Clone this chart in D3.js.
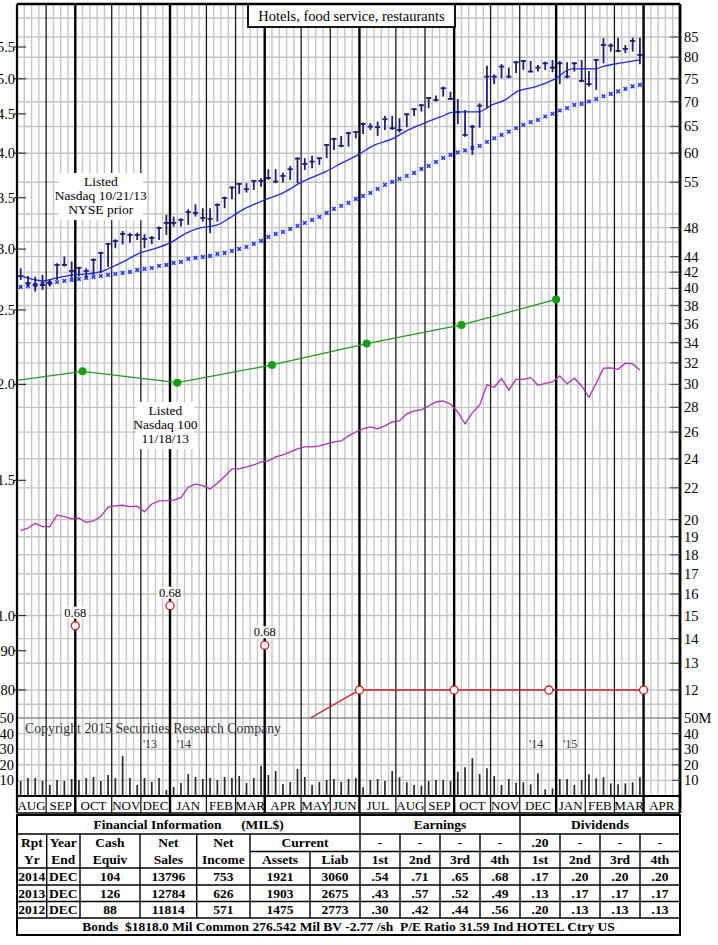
<!DOCTYPE html>
<html><head><meta charset="utf-8">
<script src="https://cdn.jsdelivr.net/npm/d3@7"></script>
<style>
body{margin:0;background:#fff}
svg{display:block}
text{font-family:"Liberation Serif","Times New Roman",serif}
</style>
</head><body>
<svg id="c" width="718" height="945"></svg>
<script>
// ---------------- DATA ----------------
const monthNames = ["AUG","SEP","OCT","NOV","DEC","JAN","FEB","MAR","APR","MAY","JUN","JUL","AUG","SEP","OCT","NOV","DEC","JAN","FEB","MAR","APR"];
const monthWeeks = [4,4,5,4,4,5,4,4,5,4,4,5,4,4,5,4,5,4,4,4,5];

const high = [42.50,41.52,41.44,41.65,41.15,43.13,44.00,43.35,42.70,42.50,
  43.79,44.66,45.81,46.36,47.53,47.28,47.28,47.06,46.81,48.15,
  49.86,49.61,49.37,50.72,51.48,50.87,50.87,51.64,52.67,54.27,
  54.88,54.83,55.38,55.66,57.18,57.18,56.60,57.75,59.28,59.10,
  59.52,59.28,61.68,62.86,63.18,64.00,64.14,65.76,65.64,65.96,
  67.08,67.08,66.63,67.63,68.66,69.55,71.01,71.34,73.25,72.16,
  70.60,68.31,65.32,69.69,78.00,76.00,78.35,77.55,79.10,79.35,
  79.10,78.16,78.95,79.35,79.10,78.80,78.80,79.35,76.78,79.59,
  84.69,83.42,84.84,83.00,84.84,84.84];
const low = [41.03,40.21,39.62,39.82,40.21,41.03,42.70,41.24,41.44,41.24,
  41.65,41.86,42.70,45.12,45.63,45.88,46.26,45.12,45.67,46.26,
  46.96,48.15,48.15,48.39,49.61,48.87,47.20,48.87,50.87,52.31,
  53.10,53.31,53.74,54.27,55.38,54.83,54.93,55.38,54.83,57.06,
  57.35,57.92,59.10,60.59,61.08,61.19,62.75,63.56,64.33,63.18,
  64.33,64.33,63.81,64.85,67.08,67.96,68.66,70.03,71.09,70.39,
  65.44,63.05,59.68,64.78,68.66,73.80,75.12,75.12,76.25,77.01,
  76.48,76.62,77.01,76.48,73.80,75.12,76.62,74.24,73.25,72.53,
  78.56,81.35,81.21,80.97,81.35,78.32];
const close = [41.52,40.66,40.42,40.42,40.66,42.92,42.92,42.15,42.53,42.15,
  43.57,44.49,45.71,46.12,47.10,46.96,46.96,46.40,46.54,47.96,
  48.68,48.68,49.12,50.31,50.16,49.42,49.27,51.38,52.46,54.14,
  54.72,53.85,55.21,55.21,55.71,55.10,56.04,57.18,59.03,58.10,
  58.50,59.10,61.50,62.62,61.32,63.70,63.95,65.50,64.97,64.85,
  66.43,64.66,64.33,67.42,68.45,69.27,70.78,70.39,72.90,70.60,
  67.84,63.37,64.97,69.19,75.48,75.48,77.78,75.48,78.80,79.10,
  76.62,77.55,78.56,77.55,78.56,75.48,78.56,74.52,73.80,79.35,
  83.00,82.85,81.52,82.02,84.00,80.55];

// short moving average (read at points along the line; week position, value)
const maWeek = [0.55,3.57,5.49,7.69,9.61,11.39,12.76,14.55,16.88,19.2,
  21.0,23.3,25.1,27.5,29.2,30.7,34.0,36.5,39.1,42.3,
  44.6,46.8,49.1,51.5,53.7,56.0,58.1,60.1,63.3,65.2,
  67.0,68.8,71.1,73.6,76.2,79.3,80.7,83.0,85.5];
const maVal = [41.52,40.91,41.28,41.65,41.77,42.03,42.53,43.31,44.49,45.16,
  45.85,47.24,47.96,48.39,49.42,50.46,52.15,53.26,55.05,56.72,
  58.27,59.70,61.50,62.62,64.33,65.70,66.89,67.90,67.90,69.36,
  70.39,72.31,73.19,74.74,77.24,77.24,77.94,78.64,79.35];

// long (40-week) moving average, one marker per week
const ma40 = [40.18,40.30,40.42,40.54,40.66,40.78,40.91,41.03,41.15,41.28,
  41.40,41.52,41.65,41.77,41.90,42.03,42.28,42.41,42.53,42.79,
  42.92,43.18,43.31,43.70,43.83,43.96,44.09,44.36,44.49,44.76,
  45.03,45.30,45.71,46.12,46.68,47.10,47.38,47.81,48.25,48.68,
  49.12,49.56,50.16,50.77,51.23,51.69,52.31,52.78,53.26,53.90,
  54.56,55.05,55.55,56.05,56.55,57.23,57.75,58.45,59.15,59.70,
  60.14,60.50,60.95,61.32,62.05,62.75,63.37,64.00,64.66,65.32,
  65.86,66.29,66.97,67.52,68.19,68.69,69.34,69.55,70.05,70.56,
  71.17,71.66,72.21,72.74,73.30,73.63];

// relative strength line (on price scale)
const relStrength = [19.35,19.49,19.78,19.58,19.58,20.28,20.18,20.04,20.08,19.84,
  19.92,20.18,20.76,20.84,20.88,20.80,20.82,20.47,20.96,21.15,
  21.17,21.21,21.36,22.04,22.24,22.15,21.93,22.31,22.76,23.28,
  23.28,23.42,23.56,23.78,23.85,24.14,24.29,24.50,24.72,24.87,
  24.87,24.95,25.10,25.25,25.32,25.71,26.01,26.25,26.41,26.25,
  26.49,26.81,26.89,27.46,27.71,27.79,28.12,28.46,28.54,28.29,
  27.62,26.65,27.54,28.20,29.95,29.74,30.52,29.50,30.46,30.46,
  30.61,29.92,30.10,30.22,30.77,30.04,30.56,29.86,28.86,30.10,
  31.49,31.52,31.39,31.97,31.90,31.33];

// weekly volume, millions
const volume = [9.6,11.5,11.5,9.6,7.1,10.3,9.6,10.9,10.3,11.5,
  12.2,9.6,13.5,11.5,25.6,11.5,7.1,11.5,9.0,11.5,
  3.8,5.8,8.3,14.1,12.2,10.9,11.5,10.3,12.2,11.5,
  12.8,8.3,11.5,19.2,13.5,16.0,7.7,9.0,17.3,12.2,
  7.1,9.0,10.3,10.9,9.0,10.9,11.5,5.6,10.3,10.9,
  9.6,16.0,12.0,8.8,7.1,6.6,9.6,10.3,10.3,9.6,
  15.6,18.4,24.2,14.1,17.8,12.8,7.1,10.9,8.5,8.8,
  7.5,14.6,4.3,4.9,10.9,10.9,7.1,10.3,14.0,11.3,
  12.0,8.1,7.5,8.1,8.8,12.0];

// trailing 12-month earnings (left scale) at quarter points
const epsWeek = [-4,9,22,35,48,61,74];
const epsVal = [2.00,2.08,2.01,2.12,2.26,2.39,2.58];

// annual dividend rate (left scale) at quarter points
const divWeek = [8,21,34,47,60,73,86];
const divVal = [0.68,0.68,0.68,0.80,0.80,0.80,0.80];
const divOffLevel = [0.97,1.03,0.915]; // where the off-scale dividend markers are shown

const rightTicks = [85,80,75,70,65,60,55,48,44,42,40,38,36,34,32,30,28,26,24,22,20,19,18,17,16,15,14,13,12];
const gridVals = [90,85,80,75,70,65,60,55,50,48,46,44,42,40,38,36,34,32,30,28,26,24,22,20,19,18,17,16,15,14,13,12,11.5];
const leftTicks = [5.5,5.0,4.5,4.0,3.5,3.0,2.5,2.0,1.5,1.0,0.9,0.8];
const leftTickLabels = ["5.5","5.0","4.5","4.0","3.5","3.0","2.5","2.0","1.5","1.0",".90",".80"];
const volTicks = [10,20,30,40,50];

// table data
const rptYr = ["2014","2013","2012"];
const yearEnd = ["DEC","DEC","DEC"];
const cashEquiv = ["104","126","88"];
const netSales = ["13796","12784","11814"];
const netIncome = ["753","626","571"];
const curAssets = ["1921","1903","1475"];
const curLiab = ["3060","2675","2773"];
const earnPending = ["-","-","-","-"];
const divPending = [".20","-","-","-"];
const earnings = [[".54",".71",".65",".68"],[".43",".57",".52",".49"],[".30",".42",".44",".56"]];
const dividends = [[".17",".20",".20",".20"],[".13",".17",".17",".17"],[".20",".13",".13",".13"]];
const footer = "Bonds  $1818.0 Mil Common 276.542 Mil BV -2.77 /sh  P/E Ratio 31.59 Ind HOTEL Ctry US";

// ---------------- LAYOUT ----------------
const L = 17, R = 680, T = 4, PB = 718, VB = 796, MB = 813;
const svg = d3.select("#c");
svg.append("rect").attr("width",718).attr("height",945).attr("fill","#fff");

const nWeeks = d3.sum(monthWeeks);
const x = d3.scaleLinear().domain([0, nWeeks]).range([L, R]);
const xc = i => x(i + 0.5);
const y = d3.scaleLog().domain([12, 85]).range([690, 37]);
const yl = d3.scaleLog().domain([0.8, 85/15]).range([690, 37]);
const yv = d3.scaleLinear().domain([0, 50]).range([VB, PB]);

const defs = svg.append("defs");
defs.append("clipPath").attr("id","cp").append("rect").attr("x",L).attr("y",T).attr("width",R-L).attr("height",PB-T);

const GRID = "#c6c6c6";
svg.append("g").selectAll("line").data(gridVals.filter(v => y(v) > T+2 && y(v) < PB-2)).join("line")
  .attr("x1",L).attr("x2",R).attr("y1",d=>y(d)).attr("y2",d=>y(d))
  .attr("stroke",GRID).attr("stroke-width",1.4);
svg.append("g").selectAll("line").data(volTicks.filter(v=>v<50)).join("line")
  .attr("x1",L).attr("x2",R).attr("y1",d=>yv(d)).attr("y2",d=>yv(d))
  .attr("stroke",GRID).attr("stroke-width",1.4);

const cum = [0, ...d3.cumsum(monthWeeks)];
const monthStarts = new Set(cum);
svg.append("g").selectAll("line").data(d3.range(1, nWeeks).filter(w => !monthStarts.has(w))).join("line")
  .attr("x1",d=>x(d)).attr("x2",d=>x(d)).attr("y1",T).attr("y2",VB)
  .attr("stroke",GRID).attr("stroke-width",1.4);

svg.append("line").attr("x1",L).attr("x2",R).attr("y1",yv(50)).attr("y2",yv(50))
  .attr("stroke","#8c8c8c").attr("stroke-width",1.6);

const quarterStart = new Set(["JAN","APR","JUL","OCT"]);
const bounds = cum.slice(1, -1).map((w, k) => ({w, thick: quarterStart.has(monthNames[k+1])}));
svg.append("g").selectAll("line").data(bounds).join("line")
  .attr("x1",d=>x(d.w)).attr("x2",d=>x(d.w)).attr("y1",T).attr("y2",MB)
  .attr("stroke",d=>d.thick?"#000":"#1a1a1a").attr("stroke-width",d=>d.thick?2.4:1.3);

// ---------------- DATA MARKS ----------------
const pg = svg.append("g").attr("clip-path","url(#cp)");

pg.append("path").datum(relStrength)
  .attr("d", d3.line().x((d,i)=>xc(i)).y(d=>y(d)))
  .attr("fill","none").attr("stroke","#b02cb8").attr("stroke-width",1.3);

pg.append("path").datum(epsVal)
  .attr("d", d3.line().x((d,i)=>x(epsWeek[i])).y(d=>yl(d)))
  .attr("fill","none").attr("stroke","#1f9a1f").attr("stroke-width",1.3);
pg.selectAll(".ed").data(epsVal.map((v,i)=>({v,w:epsWeek[i]})).filter(d=>d.w>=0)).join("circle")
  .attr("cx",d=>x(d.w)).attr("cy",d=>yl(d.v)).attr("r",4).attr("fill","#12a012");

pg.append("path").datum(divVal)
  .attr("d", d3.line().x((d,i)=>x(divWeek[i])).y(d=>yl(d)))
  .attr("fill","none").attr("stroke","#c42222").attr("stroke-width",1.3);
const divOn = divVal.map((v,i)=>({v,w:divWeek[i]})).filter(d=>yl(d.v) <= PB);
svg.append("g").selectAll("circle").data(divOn).join("circle")
  .attr("cx",d=>x(d.w)).attr("cy",d=>yl(d.v)).attr("r",4)
  .attr("fill","#fff").attr("stroke","#c42222").attr("stroke-width",1.3);
const divOff = divVal.map((v,i)=>({v,w:divWeek[i]})).filter(d=>yl(d.v) > PB);
const offG = svg.append("g");
divOff.forEach((d,k) => {
  const cx = x(d.w), cy = yl(divOffLevel[k]);
  offG.append("rect").attr("x",cx-13).attr("y",cy-19).attr("width",26).attr("height",12).attr("fill","#fff");
  offG.append("text").attr("x",cx).attr("y",cy-9).attr("text-anchor","middle").attr("font-size",12.5).text(d.v.toFixed(2));
  offG.append("circle").attr("cx",cx).attr("cy",cy).attr("r",4).attr("fill","#fff").attr("stroke","#c42222").attr("stroke-width",1.3);
});

pg.selectAll(".m40").data(ma40).join("path")
  .attr("transform",(d,i)=>`translate(${xc(i)},${y(d)})`)
  .attr("d","M-1.8,-1.8L1.8,1.8M-1.8,1.8L1.8,-1.8")
  .attr("stroke","#2236ee").attr("stroke-width",1.5).attr("fill","none");

pg.append("path").datum(maVal)
  .attr("d", d3.line().x((d,i)=>x(maWeek[i])).y(d=>y(d)).curve(d3.curveMonotoneX))
  .attr("fill","none").attr("stroke","#1f2bd0").attr("stroke-width",1.3);

const BAR = "#1c1f78";
pg.selectAll(".hl").data(high).join("line")
  .attr("x1",(d,i)=>xc(i)).attr("x2",(d,i)=>xc(i)).attr("y1",d=>y(d)).attr("y2",(d,i)=>y(low[i]))
  .attr("stroke",BAR).attr("stroke-width",1.8);
pg.selectAll(".cl").data(close).join("line")
  .attr("x1",(d,i)=>xc(i)-2.6).attr("x2",(d,i)=>xc(i)+2.6).attr("y1",d=>y(d)).attr("y2",d=>y(d))
  .attr("stroke",BAR).attr("stroke-width",1.8);

svg.append("g").selectAll("line").data(volume).join("line")
  .attr("x1",(d,i)=>xc(i)).attr("x2",(d,i)=>xc(i)).attr("y1",yv(0)).attr("y2",d=>yv(d))
  .attr("stroke","#2a2a2a").attr("stroke-width",1.7);

// ---------------- ANNOTATIONS ----------------
function noteBox(cx, lines, top, w, lh) {
  const g = svg.append("g");
  g.append("rect").attr("x",cx-w/2).attr("y",top).attr("width",w).attr("height",lines.length*lh+6).attr("fill","#fff");
  lines.forEach((s,k)=> g.append("text").attr("x",cx).attr("y",top+3+lh*(k+1)-3.5)
    .attr("text-anchor","middle").attr("font-size",13.5).text(s));
}
noteBox(x(11.5), ["Listed","Nasdaq 10/21/13","NYSE prior"], 173, 84, 13.7);
noteBox(x(20.5)-1, ["Listed","Nasdaq 100","11/18/13"], 402, 58, 13.7);

svg.append("text").attr("x",25).attr("y",733).attr("font-size",13.8).attr("fill","#333")
  .text("Copyright 2015 Securities Research Company");

const yearBounds = cum.slice(1,-1).filter((w,k)=>monthNames[k+1]==="JAN");
const yrLabels = [["'13","'14"],["'14","'15"]];
yearBounds.forEach((w,k)=>{
  svg.append("text").attr("x",x(w)-20).attr("y",747.5).attr("text-anchor","middle").attr("font-size",12).attr("fill","#333").text(yrLabels[k][0]);
  svg.append("text").attr("x",x(w)+14).attr("y",747.5).attr("text-anchor","middle").attr("font-size",12).attr("fill","#333").text(yrLabels[k][1]);
});

svg.append("rect").attr("x",248).attr("y",4).attr("width",207).attr("height",23)
  .attr("fill","#fff").attr("stroke","#000").attr("stroke-width",1.8);
svg.append("text").attr("x",351.5).attr("y",21).attr("text-anchor","middle").attr("font-size",14.5)
  .text("Hotels, food service, restaurants");

// ---------------- AXES ----------------
const ax = svg.append("g");
rightTicks.forEach(v=>{
  ax.append("line").attr("x1",670).attr("x2",R).attr("y1",y(v)).attr("y2",y(v)).attr("stroke","#555").attr("stroke-width",1.2);
  ax.append("text").attr("x",684).attr("y",y(v)+5).attr("font-size",14.5).text(v);
});
leftTicks.forEach((v,k)=>{
  ax.append("line").attr("x1",14).attr("x2",26).attr("y1",yl(v)).attr("y2",yl(v)).attr("stroke","#333").attr("stroke-width",1.2);
  ax.append("text").attr("x",15).attr("y",yl(v)+5).attr("text-anchor","end").attr("font-size",14.5).text(leftTickLabels[k]);
});
volTicks.forEach(v=>{
  ax.append("text").attr("x",684).attr("y",yv(v)+5).attr("font-size",14.5).text(v===50?"50M":v);
  ax.append("text").attr("x",14).attr("y",yv(v)+5).attr("text-anchor","end").attr("font-size",14.5).text(v);
  ax.append("line").attr("x1",672).attr("x2",R).attr("y1",yv(v)).attr("y2",yv(v)).attr("stroke","#555").attr("stroke-width",1.2);
});

svg.append("line").attr("x1",L).attr("x2",R).attr("y1",T).attr("y2",T).attr("stroke","#000").attr("stroke-width",2.4);
svg.append("line").attr("x1",L).attr("x2",L).attr("y1",T).attr("y2",MB).attr("stroke","#000").attr("stroke-width",2.2);
svg.append("line").attr("x1",R).attr("x2",R).attr("y1",T).attr("y2",MB).attr("stroke","#000").attr("stroke-width",2.8);
svg.append("line").attr("x1",L).attr("x2",R).attr("y1",VB).attr("y2",VB).attr("stroke","#000").attr("stroke-width",2.2);
svg.append("line").attr("x1",L).attr("x2",R).attr("y1",MB).attr("y2",MB).attr("stroke","#000").attr("stroke-width",1.6);

monthNames.forEach((m,k)=>{
  svg.append("text").attr("x",(x(cum[k])+x(cum[k+1]))/2).attr("y",809.5)
    .attr("text-anchor","middle").attr("font-size",13).text(m);
});

// ---------------- TABLE ----------------
const tg = svg.append("g");
const TT = 815, TBm = 935;
const rY = [815, 834, 851.5, 868, 885, 901.5, 918, 935];
const cX = [17, 46.7, 80, 140, 196.7, 250, 310, 360, 400, 440, 480, 520, 560, 600, 640, 680];
const hl = (x1,x2,yy,w=1.4)=>tg.append("line").attr("x1",x1).attr("x2",x2).attr("y1",yy).attr("y2",yy).attr("stroke","#000").attr("stroke-width",w);
const vl = (xx,y1,y2,w=1.4)=>tg.append("line").attr("x1",xx).attr("x2",xx).attr("y1",y1).attr("y2",y2).attr("stroke","#000").attr("stroke-width",w);
tg.append("rect").attr("x",L).attr("y",TT).attr("width",R-L).attr("height",TBm-TT).attr("fill","none").attr("stroke","#000").attr("stroke-width",2);
hl(L,R,rY[1]); hl(250,R,rY[2]); hl(L,R,rY[3]); hl(L,R,rY[4]); hl(L,R,rY[5]); hl(L,R,rY[6]);
[46.7,80,140,196.7,250,400,440,480,560,600,640].forEach(xx=>vl(xx,rY[1],rY[6]));
vl(310,rY[2],rY[6]); vl(360,rY[0],rY[6]); vl(520,rY[0],rY[6]);

const ctext = (cx, row, s) => tg.append("text").attr("x",cx).attr("y",(rY[row]+rY[row+1])/2+4.7)
  .attr("text-anchor","middle").attr("font-size",13.5).attr("font-weight","bold").text(s);
const mid = k => (cX[k]+cX[k+1])/2;
ctext(157.5,0,"Financial Information"); ctext(262.5,0,"(MIL$)");
ctext(440,0,"Earnings"); ctext(600,0,"Dividends");
["Rpt","Year","Cash","Net","Net"].forEach((s,k)=>ctext(mid(k),1,s));
ctext(305,1,"Current");
earnPending.forEach((s,k)=>ctext(mid(7+k),1,s));
divPending.forEach((s,k)=>ctext(mid(11+k),1,s));
["Yr","End","Equiv","Sales","Income","Assets","Liab","1st","2nd","3rd","4th","1st","2nd","3rd","4th"].forEach((s,k)=>ctext(mid(k),2,s));
rptYr.forEach((s,r)=>{
  const vals = [rptYr[r],yearEnd[r],cashEquiv[r],netSales[r],netIncome[r],curAssets[r],curLiab[r],...earnings[r],...dividends[r]];
  vals.forEach((v,k)=>ctext(mid(k),3+r,v));
});
tg.append("text").attr("x",(L+R)/2).attr("y",(rY[6]+rY[7])/2+4.7).attr("text-anchor","middle")
  .attr("font-size",13.5).attr("font-weight","bold").attr("xml:space","preserve").style("white-space","pre").text(footer);
</script>
</body></html>
